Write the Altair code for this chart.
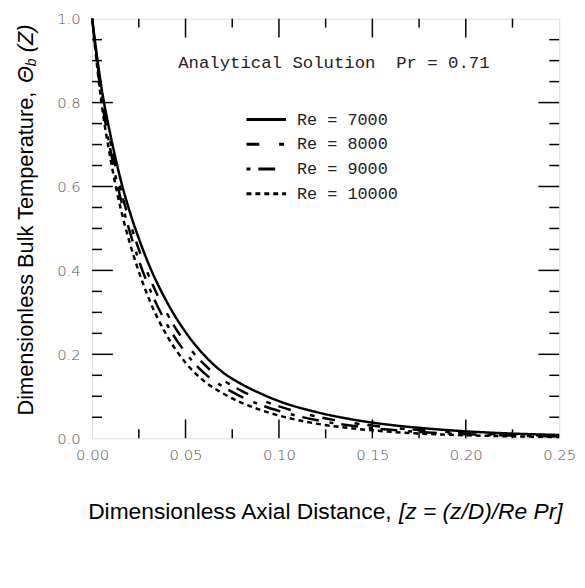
import altair as alt
import pandas as pd

# ---- data ----
z_vals = [0, 0.005, 0.01, 0.015, 0.02, 0.025, 0.03, 0.04, 0.05, 0.06, 0.07,
          0.08, 0.09, 0.10, 0.12, 0.14, 0.16, 0.18, 0.20, 0.225, 0.25]
re7000 = [1.0, 0.836, 0.719, 0.621, 0.542, 0.476, 0.418, 0.325, 0.253, 0.198, 0.157,
          0.129, 0.107, 0.0885, 0.0624, 0.0442, 0.0316, 0.0229, 0.0165, 0.0111, 0.0078]
re8000 = [1.0, 0.824, 0.701, 0.598, 0.518, 0.450, 0.391, 0.298, 0.227, 0.176, 0.139,
          0.113, 0.0922, 0.0760, 0.0520, 0.0359, 0.0252, 0.0178, 0.0125, 0.0084, 0.0057]
re9000 = [1.0, 0.812, 0.683, 0.576, 0.495, 0.424, 0.365, 0.272, 0.204, 0.155, 0.123,
          0.0988, 0.0797, 0.0650, 0.0433, 0.0292, 0.0200, 0.0137, 0.0096, 0.0063, 0.0042]
re10000 = [1.0, 0.800, 0.662, 0.553, 0.468, 0.397, 0.337, 0.245, 0.180, 0.136, 0.107,
           0.0845, 0.0676, 0.0541, 0.0349, 0.0231, 0.0153, 0.0102, 0.0071, 0.0045, 0.0030]

series_names = ["7000", "8000", "9000", "10000"]
series_values = [re7000, re8000, re9000, re10000]
dash_styles = [[1, 0], [13, 20, 5, 8], [4, 8, 17, 11], [5, 4]]

x_labels = [0.0, 0.05, 0.10, 0.15, 0.20, 0.25]
y_labels = [0.0, 0.2, 0.4, 0.6, 0.8, 1.0]
x_major = [0.05, 0.10, 0.15, 0.20]
x_minor = [0.025, 0.075, 0.125, 0.175, 0.225]
y_major = [0.2, 0.4, 0.6, 0.8]
y_minor = [0.05, 0.1, 0.15, 0.25, 0.3, 0.35, 0.45, 0.5, 0.55, 0.65, 0.7, 0.75, 0.85, 0.9, 0.95]

annotation = "Analytical Solution\u00a0\u00a0Pr = 0.71"

W, H = 472, 424

rows = []
for name, vals in zip(series_names, series_values):
    for zz, tt in zip(z_vals, vals):
        rows.append({"z": zz, "theta": tt, "Re": name})
df = pd.DataFrame(rows)

xs = alt.Scale(domain=[0, 0.25], nice=False, zero=False)
ys = alt.Scale(domain=[0, 1.0], nice=False, zero=False)

tick_font = "DejaVu Sans"
tick_color = "#555555"

lines = alt.Chart(df).mark_line(color="black", strokeWidth=2.5, interpolate="monotone").encode(
    x=alt.X("z:Q", scale=xs, axis=alt.Axis(values=x_labels, format=".2f", ticks=False, domain=False,
                                           grid=False, title=None, labelFont=tick_font,
                                           labelFontSize=15, labelColor=tick_color, labelPadding=9,
                                           labelFontWeight=300, labelFlush=False)),
    y=alt.Y("theta:Q", scale=ys, axis=alt.Axis(values=y_labels, format=".1f", ticks=False, domain=False,
                                               grid=False, title=None, labelFont=tick_font,
                                               labelFontSize=15, labelColor=tick_color, labelPadding=12,
                                               labelFontWeight=300, labelFlush=False)),
    strokeDash=alt.StrokeDash("Re:N", scale=alt.Scale(domain=series_names, range=dash_styles),
                              legend=None),
)

# ---- hand-drawn legend (rows 25 px apart) ----
legend_layers = []
row_y0, row_step = 102, 25
for i, (name, dash) in enumerate(zip(series_names, dash_styles)):
    yy = row_y0 + i * row_step
    legend_layers.append(
        alt.Chart(pd.DataFrame({"Re": [name]})).mark_rule(
            color="black", strokeWidth=3, strokeDash=dash
        ).encode(x=alt.value(156), x2=alt.value(196), y=alt.value(yy))
    )
    legend_layers.append(
        alt.Chart(pd.DataFrame({"t": ["Re = " + name]})).mark_text(
            font="Liberation Mono", fontSize=17, color="#222222", align="left", baseline="middle"
        ).encode(text="t:N", x=alt.value(207), y=alt.value(yy))
    )

def rules_x(vals, y1, y2):
    return alt.Chart(pd.DataFrame({"v": vals})).mark_rule(color="black", strokeWidth=1.5).encode(
        x=alt.X("v:Q", scale=xs), y=alt.value(y1), y2=alt.value(y2))

def rules_y(vals, x1, x2):
    return alt.Chart(pd.DataFrame({"v": vals})).mark_rule(color="black", strokeWidth=1.5).encode(
        y=alt.Y("v:Q", scale=ys), x=alt.value(x1), x2=alt.value(x2))

ticks = [
    rules_x(x_major, H, H - 19), rules_x(x_minor, H, H - 9),
    rules_x(x_major, 0, 19), rules_x(x_minor, 0, 9),
    rules_y(y_major, 0, 21), rules_y(y_minor, 0, 10),
    rules_y(y_major, W, W - 21), rules_y(y_minor, W, W - 10),
]

ann = alt.Chart(pd.DataFrame({"t": [annotation]})).mark_text(
    font="Liberation Mono", fontSize=17.5, color="#222222", align="left", baseline="middle"
).encode(text="t:N", x=alt.value(87), y=alt.value(45))

xt_fs = 23
xt_y = 499
xt1 = alt.Chart(pd.DataFrame({"t": ["Dimensionless Axial Distance,"]})).mark_text(
    font="Liberation Sans", fontSize=xt_fs, color="black", align="left", baseline="middle"
).encode(text="t:N", x=alt.value(-4), y=alt.value(xt_y))
xt2 = alt.Chart(pd.DataFrame({"t": ["[z = (z/D)/Re Pr]"]})).mark_text(
    font="Liberation Sans", fontSize=xt_fs, fontStyle="italic", color="black", align="left",
    baseline="middle"
).encode(text="t:N", x=alt.value(310), y=alt.value(xt_y))

yt_fs = 22
yx = -67
yt1 = alt.Chart(pd.DataFrame({"t": ["Dimensionless Bulk Temperature,"]})).mark_text(
    font="Liberation Sans", fontSize=yt_fs, color="black", align="left", baseline="middle", angle=270
).encode(text="t:N", x=alt.value(yx), y=alt.value(401))
yt2 = alt.Chart(pd.DataFrame({"t": ["\u0398"]})).mark_text(
    font="Liberation Sans", fontSize=yt_fs, fontStyle="italic", color="black", align="left",
    baseline="middle", angle=270
).encode(text="t:N", x=alt.value(yx), y=alt.value(65))
yt3 = alt.Chart(pd.DataFrame({"t": ["b"]})).mark_text(
    font="Liberation Sans", fontSize=14, fontStyle="italic", color="black", align="left",
    baseline="middle", angle=270, dy=6
).encode(text="t:N", x=alt.value(yx), y=alt.value(48))
yt4 = alt.Chart(pd.DataFrame({"t": ["(Z)"]})).mark_text(
    font="Liberation Sans", fontSize=yt_fs, fontStyle="italic", color="black", align="left",
    baseline="middle", angle=270
).encode(text="t:N", x=alt.value(yx), y=alt.value(34))

chart = alt.layer(lines, *ticks, *legend_layers, ann, xt1, xt2, yt1, yt2, yt3, yt4).properties(
    width=W, height=H,
    autosize=alt.AutoSizeParams(type="none"),
    padding={"left": 85, "top": 8, "right": 18, "bottom": 95},
).configure_view(stroke="black", strokeWidth=3).configure(background="white")

chart.save("out.html", embed_options={"renderer": "svg", "actions": False})
